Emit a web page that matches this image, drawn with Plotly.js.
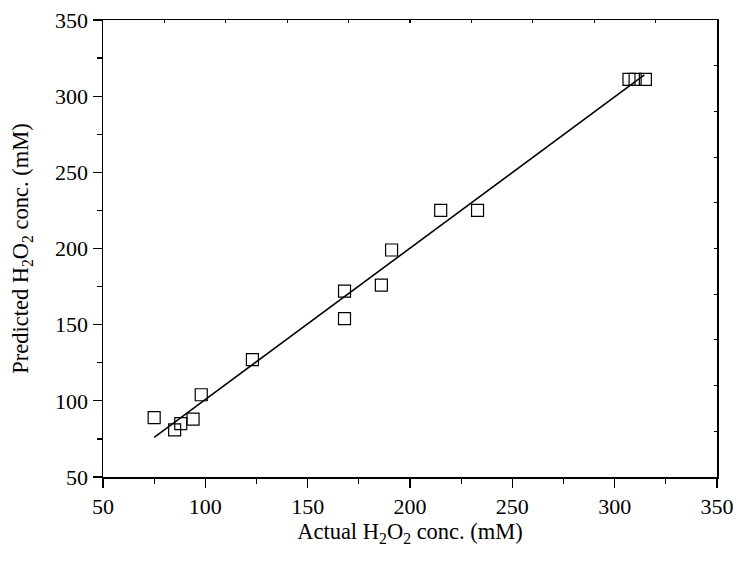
<!DOCTYPE html>
<html>
<head>
<meta charset="utf-8">
<script src="https://cdn.plot.ly/plotly-3.0.1.min.js"></script>
<style>html,body{margin:0;padding:0;background:#fff}#chart{width:738px;height:563px}</style>
</head>
<body>
<div id="chart"></div>
<script>
// Measured data (Actual vs Predicted H2O2, mM)
const actual = [75, 85, 88, 94, 98, 123, 168, 168, 186, 191, 215, 233, 307, 310, 315];
const predicted = [89, 81, 85, 88, 104, 127, 172, 154, 176, 199, 225, 225, 311, 311, 311];
// Linear fit line endpoints
const fitX = [75, 314.5];
const fitY = [76, 314];

const FONT = 'Liberation Serif, Times New Roman, serif';

const traces = [
  {x: fitX, y: fitY, mode: 'lines', type: 'scatter',
   line: {color: '#000', width: 1.6}, hoverinfo: 'skip', showlegend: false},
  {x: actual, y: predicted, mode: 'markers', type: 'scatter',
   marker: {symbol: 'square-open', size: 12, color: '#000', line: {color: '#000', width: 1.2}},
   showlegend: false},
  {x: [], y: [], xaxis: 'x2', yaxis: 'y2', type: 'scatter', mode: 'markers', showlegend: false}
];

const common = {showgrid: false, zeroline: false, showline: true, linecolor: '#000', linewidth: 1.5,
                tickcolor: '#000', tickwidth: 1.2};

const layout = {
  width: 738, height: 563,
  margin: {l: 103, r: 21, t: 20, b: 86},
  paper_bgcolor: '#fff', plot_bgcolor: '#fff',
  font: {family: FONT, color: '#000', size: 22},
  xaxis: Object.assign({}, common, {
    range: [50, 350], tick0: 50, dtick: 50, ticks: 'outside', ticklen: 9,
    minor: {ticks: 'outside', ticklen: 5, dtick: 25, tickcolor: '#000', tickwidth: 1.2},
    tickfont: {family: FONT, size: 22},
    title: {text: 'Actual H<sub>2</sub>O<sub>2</sub> conc. (mM)', font: {family: FONT, size: 22.5}, standoff: 3}
  }),
  yaxis: Object.assign({}, common, {
    range: [50, 350], tick0: 50, dtick: 50, ticks: 'outside', ticklen: 9,
    minor: {ticks: 'outside', ticklen: 5, dtick: 25, tickcolor: '#000', tickwidth: 1.2},
    tickfont: {family: FONT, size: 22},
    title: {text: 'Predicted H<sub>2</sub>O<sub>2</sub> conc. (mM)', font: {family: FONT, size: 22.5}, standoff: 20}
  }),
  xaxis2: Object.assign({}, common, {
    overlaying: 'x', side: 'top', range: [50, 350], tick0: 50, dtick: 30,
    ticks: 'inside', ticklen: 3, showticklabels: false
  }),
  yaxis2: Object.assign({}, common, {
    overlaying: 'y', side: 'right', range: [50, 350], tick0: 50, dtick: 30,
    ticks: 'inside', ticklen: 3, showticklabels: false
  })
};

Plotly.newPlot('chart', traces, layout, {displayModeBar: false, staticPlot: true});
</script>
</body>
</html>
